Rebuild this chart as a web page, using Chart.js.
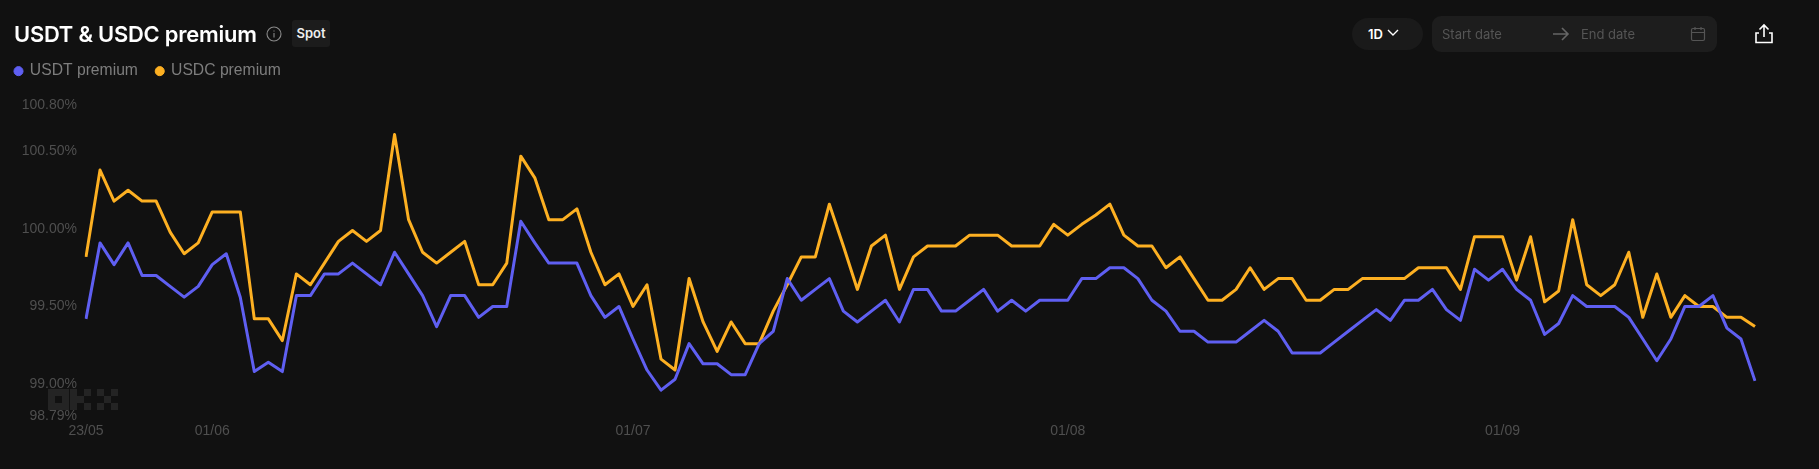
<!DOCTYPE html>
<html>
<head>
<meta charset="utf-8">
<title>USDT & USDC premium</title>
<script src="https://cdn.jsdelivr.net/npm/chart.js@4"></script>
<style>
  html, body { margin: 0; padding: 0; width: 1819px; height: 469px; background: #111111; overflow: hidden; }
  body { position: relative; font-family: "Liberation Sans", sans-serif; }
  .abs { position: absolute; }
  #chart { position: absolute; left: 0; top: 0; }
  .title { left: 14px; top: 20px; font: 600 21.9px/28px Inter, sans-serif; color: #fff; white-space: nowrap; letter-spacing: -0.2px; }
  .spot { left: 292px; top: 20px; width: 38px; height: 27px; background: #1c1c1c; border-radius: 3px; color: #eee; font: 600 13px/27px Inter, sans-serif; text-align: center; }
  .pill { left: 1352px; top: 18px; width: 71px; height: 32px; background: #1a1a1a; border-radius: 16px; color: #fff; font: 600 13px/32px Inter, sans-serif; padding-left: 16px; box-sizing: border-box; }
  .range { left: 1432px; top: 16px; width: 285px; height: 36px; background: #1d1d1d; border-radius: 9px; }
  .ph { top: 16px; font: 13px/36px Inter, sans-serif; color: #555; }
</style>
</head>
<body>
<svg class="abs" style="left:48px;top:389px" width="70" height="21" fill="#242424">
  <path d="M0 0h21v21H0z M7 7v7h7V7z" fill-rule="evenodd"/>
  <path d="M22 0h7v21h-7z M29 7h7v7h-7z M36 0h7v7h-7z M36 14h7v7h-7z"/>
  <path d="M49 0h7v7h-7z M63 0h7v7h-7z M56 7h7v7h-7z M49 14h7v7h-7z M63 14h7v7h-7z"/>
</svg>
<canvas id="chart" width="1819" height="469"></canvas>

<div class="abs title">USDT &amp; USDC premium</div>
<svg class="abs" style="left:266px;top:26px" width="16" height="16" fill="none" stroke="#8a8a8a" stroke-width="1.1">
  <circle cx="8" cy="8" r="7"/><path d="M8 7v4.5M8 4.4v1.2"/>
</svg>
<div class="abs spot">Spot</div>

<div class="abs pill">1D</div>
<svg class="abs" style="left:1386px;top:28px" width="14" height="10" fill="none" stroke="#fff" stroke-width="1.4"><path d="M2 2l5 5 5-5"/></svg>
<div class="abs range"></div>
<div class="abs ph" style="left:1442px">Start date</div>
<svg class="abs" style="left:1552px;top:25px" width="18" height="18" fill="none" stroke="#666" stroke-width="1.6"><path d="M1 9h15M10 3l6 6-6 6"/></svg>
<div class="abs ph" style="left:1581px">End date</div>
<svg class="abs" style="left:1690px;top:26px" width="16" height="16" fill="none" stroke="#555" stroke-width="1.2"><rect x="1.5" y="2.5" width="13" height="12" rx="1.5"/><path d="M1.5 6.5h13M5 1v3M11 1v3"/></svg>
<svg class="abs" style="left:1754px;top:23px" width="20" height="21" fill="none" stroke="#fff" stroke-width="1.6"><path d="M10 14V2M5.5 6.5L10 2l4.5 4.5M5 10H2v9.5h16V10h-3"/></svg>

<script>
const seriesNames = ['USDT premium', 'USDC premium'];
const tickDates = ['23/05', '01/06', '01/07', '01/08', '01/09'];
const yTicks = [98.79, 99, 99.5, 100, 100.5, 100.8];
const yTickLabels = ['98.79%', '99.00%', '99.50%', '100.00%', '100.50%', '100.80%'];

// one label per day, 23/05 -> 19/09
const days = [
  '23/05','24/05','25/05','26/05','27/05','28/05','29/05','30/05','31/05',
  '01/06','02/06','03/06','04/06','05/06','06/06','07/06','08/06','09/06','10/06','11/06','12/06','13/06','14/06','15/06','16/06','17/06','18/06','19/06','20/06','21/06','22/06','23/06','24/06','25/06','26/06','27/06','28/06','29/06','30/06',
  '01/07','02/07','03/07','04/07','05/07','06/07','07/07','08/07','09/07','10/07','11/07','12/07','13/07','14/07','15/07','16/07','17/07','18/07','19/07','20/07','21/07','22/07','23/07','24/07','25/07','26/07','27/07','28/07','29/07','30/07','31/07',
  '01/08','02/08','03/08','04/08','05/08','06/08','07/08','08/08','09/08','10/08','11/08','12/08','13/08','14/08','15/08','16/08','17/08','18/08','19/08','20/08','21/08','22/08','23/08','24/08','25/08','26/08','27/08','28/08','29/08','30/08','31/08',
  '01/09','02/09','03/09','04/09','05/09','06/09','07/09','08/09','09/09','10/09','11/09','12/09','13/09','14/09','15/09','16/09','17/09','18/09','19/09'
];

const usdt = [
  99.42,99.91,99.77,99.91,99.70,99.70,99.63,99.56,99.63,99.77,
  99.84,99.56,99.08,99.14,99.08,99.57,99.57,99.71,99.71,99.78,
  99.71,99.64,99.85,99.71,99.57,99.37,99.57,99.57,99.43,99.50,
  99.50,100.05,99.91,99.78,99.78,99.78,99.57,99.43,99.50,99.29,
  99.09,98.96,99.03,99.26,99.13,99.13,99.06,99.06,99.26,99.34,
  99.68,99.54,99.61,99.68,99.47,99.40,99.47,99.54,99.40,99.61,
  99.61,99.47,99.47,99.54,99.61,99.47,99.54,99.47,99.54,99.54,
  99.54,99.68,99.68,99.75,99.75,99.68,99.54,99.47,99.34,99.34,
  99.27,99.27,99.27,99.34,99.41,99.34,99.20,99.20,99.20,99.27,
  99.34,99.41,99.48,99.41,99.54,99.54,99.61,99.48,99.41,99.74,
  99.67,99.74,99.61,99.54,99.32,99.39,99.57,99.50,99.50,99.50,
  99.43,99.29,99.15,99.29,99.50,99.50,99.57,99.36,99.29,99.02
];
const usdc = [
  99.82,100.38,100.18,100.25,100.18,100.18,99.98,99.84,99.91,100.11,
  100.11,100.11,99.42,99.42,99.28,99.71,99.64,99.78,99.92,99.99,
  99.92,99.99,100.61,100.06,99.85,99.78,99.85,99.92,99.64,99.64,
  99.78,100.47,100.33,100.06,100.06,100.13,99.85,99.64,99.71,99.50,
  99.64,99.16,99.09,99.68,99.40,99.21,99.40,99.26,99.26,99.47,
  99.64,99.82,99.82,100.16,99.89,99.61,99.89,99.96,99.61,99.82,
  99.89,99.89,99.89,99.96,99.96,99.96,99.89,99.89,99.89,100.03,
  99.96,100.03,100.09,100.16,99.96,99.89,99.89,99.75,99.82,99.68,
  99.54,99.54,99.61,99.75,99.61,99.68,99.68,99.54,99.54,99.61,
  99.61,99.68,99.68,99.68,99.68,99.75,99.75,99.75,99.61,99.95,
  99.95,99.95,99.67,99.95,99.53,99.60,100.06,99.64,99.57,99.64,
  99.85,99.43,99.71,99.43,99.57,99.50,99.50,99.43,99.43,99.37
];

// extra room between the legend and the plot
const legendGap = {
  id: 'legendGap',
  beforeInit(chart) {
    const fit = chart.legend.fit;
    chart.legend.fit = function () {
      fit.call(this);
      this.height += 16;
    };
  }
};

new Chart(document.getElementById('chart'), {
  type: 'line',
  plugins: [legendGap],
  data: {
    labels: days,
    datasets: [
      { label: seriesNames[0], data: usdt, borderColor: '#5f5ff2', backgroundColor: '#5f5ff2' },
      { label: seriesNames[1], data: usdc, borderColor: '#fdb022', backgroundColor: '#fdb022' }
    ]
  },
  options: {
    responsive: false,
    animation: false,
    elements: {
      line: { borderWidth: 3, tension: 0, borderJoinStyle: 'round' },
      point: { radius: 0, hoverRadius: 0 }
    },
    layout: { padding: { top: 45, right: 64, bottom: 0, left: -3.3 } },
    plugins: {
      tooltip: { enabled: false },
      legend: {
        align: 'start',
        onClick: null,
        labels: {
          usePointStyle: true,
          pointStyle: 'circle',
          boxWidth: 7,
          boxHeight: 6.4,
          padding: 18.3,
          color: '#7d7d7d',
          font: { family: 'Liberation Sans', size: 15.7 }
        }
      }
    },
    scales: {
      x: {
        grid: { display: false, drawTicks: false },
        border: { display: false },
        afterFit: (axis) => { axis.height = 52.5; },
        ticks: {
          autoSkip: false,
          maxRotation: 0,
          padding: 6.5,
          color: '#4f4f4f',
          font: { family: 'Liberation Sans', size: 14 },
          callback: function (value) {
            const d = this.getLabelForValue(value);
            return tickDates.includes(d) ? d : '';
          }
        }
      },
      y: {
        min: 98.79,
        max: 100.8,
        grid: { display: false, drawTicks: false },
        border: { display: false },
        afterFit: (axis) => { axis.width = 89.3; },
        afterBuildTicks: (axis) => { axis.ticks = yTicks.map((v) => ({ value: v })); },
        ticks: {
          padding: 9,
          color: '#4f4f4f',
          font: { family: 'Liberation Sans', size: 14 },
          callback: (value) => yTickLabels[yTicks.indexOf(value)]
        }
      }
    }
  }
});
</script>
</body>
</html>
